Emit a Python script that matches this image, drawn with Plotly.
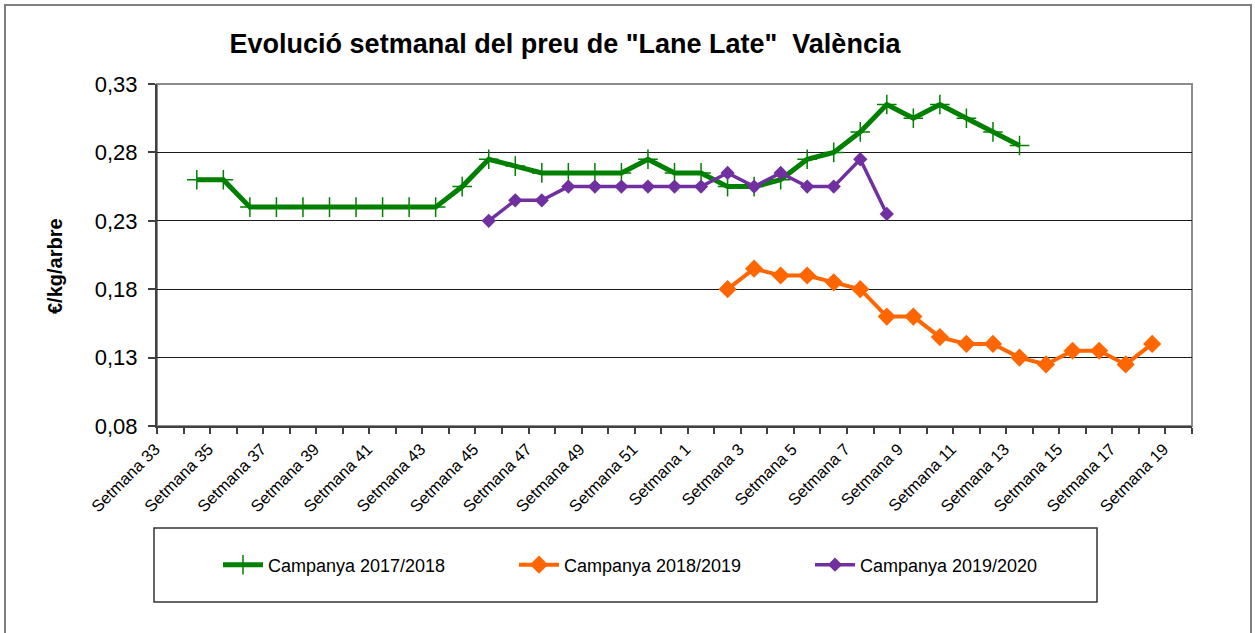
import plotly.graph_objects as go

weeks = list(range(33, 53)) + list(range(1, 20))
categories = [f"Setmana {w}" for w in weeks]
tick_labels = [c if i % 2 == 0 else "" for i, c in enumerate(categories)]

# values aligned with categories (None = no data)
campanya_2017_2018 = [None, 0.26, 0.26, 0.24, 0.24, 0.24, 0.24, 0.24, 0.24, 0.24, 0.24,
                      0.255, 0.275, 0.27, 0.265, 0.265, 0.265, 0.265, 0.275, 0.265,
                      0.265, 0.255, 0.255, 0.26, 0.275, 0.28, 0.295, 0.315, 0.305, 0.315,
                      0.305, 0.295, 0.285, None, None, None, None, None, None]
campanya_2018_2019 = [None] * 21 + [0.18, 0.195, 0.19, 0.19, 0.185, 0.18, 0.16, 0.16, 0.145,
                                    0.14, 0.14, 0.13, 0.125, 0.135, 0.135, 0.125, 0.14, None]
campanya_2019_2020 = [None] * 12 + [0.23, 0.245, 0.245, 0.255, 0.255, 0.255, 0.255, 0.255,
                                    0.255, 0.265, 0.255, 0.265, 0.255, 0.255, 0.275, 0.235] + [None] * 11

FONT = "Liberation Sans, Arial, sans-serif"

fig = go.Figure()
fig.add_trace(go.Scatter(x=categories, y=campanya_2017_2018, name="Campanya 2017/2018",
                         mode="lines+markers", connectgaps=False,
                         line=dict(color="#008000", width=5),
                         marker=dict(symbol="cross-thin", size=14, color="#008000",
                                     line=dict(color="#008000", width=1.5))))
fig.add_trace(go.Scatter(x=categories, y=campanya_2018_2019, name="Campanya 2018/2019",
                         mode="lines+markers",
                         line=dict(color="#FF6600", width=4),
                         marker=dict(symbol="diamond", size=14, color="#FF6600")))
fig.add_trace(go.Scatter(x=categories, y=campanya_2019_2020, name="Campanya 2019/2020",
                         mode="lines+markers",
                         line=dict(color="#7030A0", width=3.5),
                         marker=dict(symbol="diamond", size=11, color="#7030A0")))

fig.update_layout(
    width=1255, height=633,
    margin=dict(l=157, r=63, t=84, b=207, autoexpand=False),
    paper_bgcolor="white", plot_bgcolor="white",
    separators=", ",
    font=dict(family=FONT, color="black"),
    title=dict(text="<b>Evolució setmanal del preu de \"Lane Late\"  València</b>",
               x=565 / 1255, xanchor="center", xref="container",
               y=1 - 44 / 633, yanchor="middle", yref="container",
               font=dict(size=27, family=FONT, color="black")),
    xaxis=dict(type="category", categoryorder="array", categoryarray=categories,
               range=[-0.5, len(categories) - 0.5], autorange=False,
               tickmode="array", tickvals=categories, ticktext=tick_labels,
               tickson="boundaries", ticks="outside", ticklen=6, tickcolor="#404040",
               tickwidth=1.5, showline=True, linecolor="#404040", linewidth=2,
               tickangle=-45, ticklabelshift=-15, ticklabelstandoff=5,
               tickfont=dict(size=16.5, family=FONT, color="black"),
               showgrid=False, zeroline=False),
    yaxis=dict(range=[0.08, 0.33], autorange=False, tick0=0.08, dtick=0.05, tickformat=".2f",
               ticks="outside", ticklen=7, tickcolor="#404040", tickwidth=1.5,
               showline=True, linecolor="#404040", linewidth=2,
               showgrid=True, gridcolor="#1a1a1a", gridwidth=1, zeroline=False,
               tickfont=dict(size=22, family=FONT, color="black"), ticklabelstandoff=6),
    legend=dict(orientation="h", x=218 / 1255, xref="container", xanchor="left",
                y=1 - 565 / 633, yref="container", yanchor="middle",
                entrywidth=241, entrywidthmode="pixels",
                font=dict(size=18, family=FONT, color="black"),
                bgcolor="rgba(0,0,0,0)", borderwidth=0, itemwidth=40),
    showlegend=True,
)

# plot border, legend frame, outer frame
fig.add_shape(type="rect", xref="paper", yref="paper", x0=0, x1=1, y0=0, y1=1,
              line=dict(color="#8c8c8c", width=2), layer="below")
fig.add_shape(type="rect", xref="paper", yref="paper",
              x0=(154 - 157) / 1035, x1=(1097 - 157) / 1035,
              y0=(426 - 602) / 342, y1=(426 - 528) / 342,
              line=dict(color="#333333", width=1.5))
fig.add_shape(type="rect", xref="paper", yref="paper",
              x0=(5 - 157) / 1035, x1=(1251 - 157) / 1035,
              y0=(426 - 660) / 342, y1=(426 - 5) / 342,
              line=dict(color="#7f7f7f", width=2))

fig.add_annotation(text="<b>€/kg/arbre</b>", textangle=-90, showarrow=False,
                   xref="paper", yref="paper",
                   x=(55 - 157) / 1035, y=(426 - 266) / 342,
                   xanchor="center", yanchor="middle",
                   font=dict(size=20, family=FONT, color="black"))

fig.write_html("out.html", config={"displayModeBar": False},
               post_script="document.body.style.margin='0';")
